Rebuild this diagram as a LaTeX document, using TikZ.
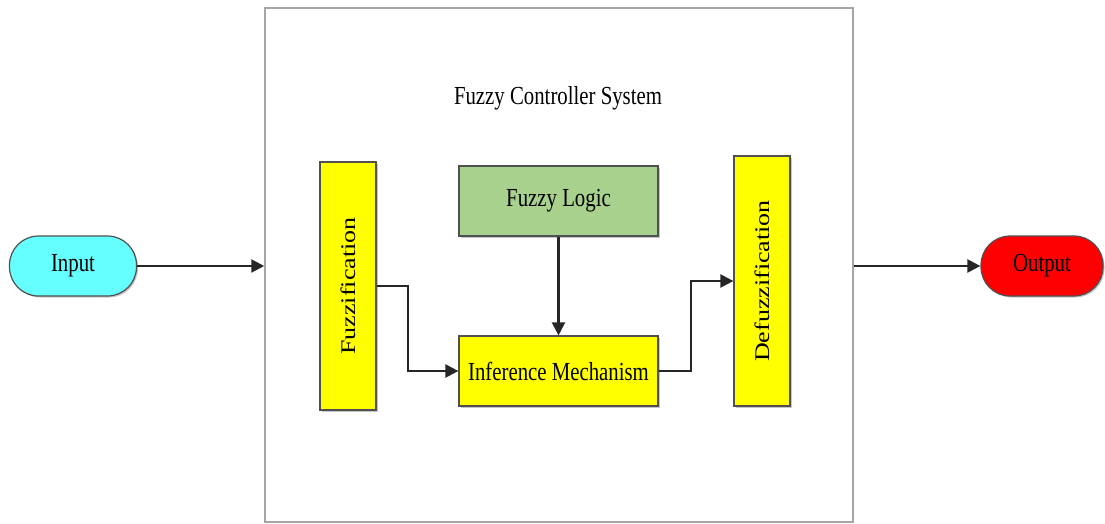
\documentclass[tikz,border=0pt]{standalone}
\usepackage{fontspec}
\usepackage{graphicx}
\setmainfont{Liberation Serif}
\usetikzlibrary{arrows.meta,shadows}
\newcommand{\hx}[1]{\scalebox{0.8}[1]{#1}}
\newcommand{\vx}[1]{\scalebox{1}[0.8]{#1}}
\definecolor{incyan}{RGB}{102,255,255}
\definecolor{outred}{RGB}{255,0,0}
\definecolor{flgreen}{RGB}{169,209,142}
\definecolor{byellow}{RGB}{255,255,0}
\definecolor{bordgray}{RGB}{80,80,80}
\definecolor{sysgray}{RGB}{165,165,165}
\begin{document}
\begin{tikzpicture}[x=1pt,y=-1pt,
  font=\fontsize{26}{30}\selectfont,
  box/.style={draw=bordgray,line width=1.2pt,inner sep=0pt,
    drop shadow={shadow xshift=1.5pt,shadow yshift=-1.5pt,opacity=0.45}},
  term/.style={box,rounded corners=29pt,minimum width=#1,minimum height=60pt},
  arr/.style={draw=black!85,line width=2.2pt,-{Triangle[length=13pt,width=13pt]}}]
\useasboundingbox (0,0) rectangle (1105,524);
\node[draw=sysgray,line width=1.5pt,minimum width=588pt,minimum height=514pt,inner sep=0pt] (sys) at (559,265) {};
\node (title) at (558,98) {\hx{Fuzzy Controller System}};
\node[term=127pt,fill=incyan] (input) at (73,266) {\raisebox{-2pt}{\hx{Input}}};
\node[term=122pt,fill=outred] (output) at (1042,266) {\raisebox{-2pt}{\hx{Output}}};
\node[box,fill=byellow,minimum width=56pt,minimum height=248pt] (fuzz) at (348,286) {};
\node[rotate=90] (fuzzt) at (fuzz.center) {\vx{Fuzzification}};
\node[box,fill=flgreen,minimum width=199pt,minimum height=70pt] (logic) at (558.5,201) {\raisebox{-2pt}{\hx{Fuzzy Logic}}};
\node[box,fill=byellow,minimum width=199pt,minimum height=70pt] (inf) at (558.5,371) {\hx{Inference Mechanism}};
\node[box,fill=byellow,minimum width=56pt,minimum height=250pt] (defuzz) at (762,281) {};
\node[rotate=90] (defuzzt) at (defuzz.center) {\vx{Defuzzification}};
\draw[arr] (input.east) -- (input.east -| sys.west);
\draw[arr] (fuzz.east) -- ++(31,0) |- (inf.west);
\draw[arr] (logic.south) -- (inf.north);
\draw[arr] (inf.east) -- ++(32,0) |- (defuzz.west);
\draw[arr] (output.west -| sys.east) -- (output.west);
\end{tikzpicture}
\end{document}
